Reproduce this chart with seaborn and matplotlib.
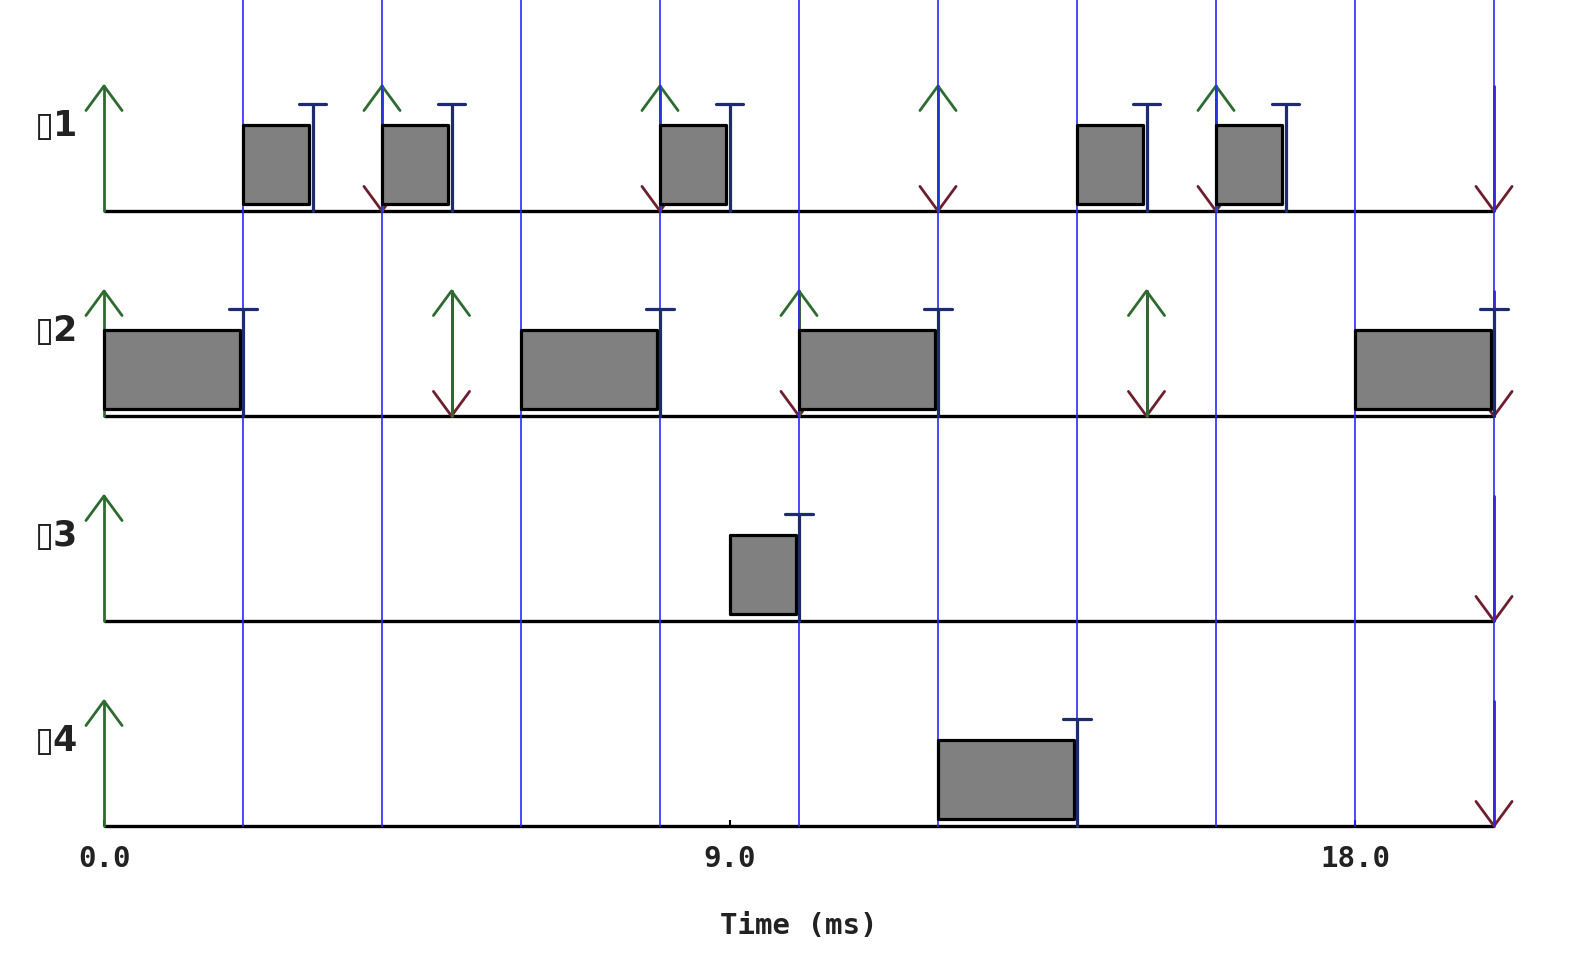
import seaborn as sns
import matplotlib
matplotlib.use('Agg')
import matplotlib.pyplot as plt

# Schedule data (time in ms)
task_labels = ["\u25af1", "\u25af2", "\u25af3", "\u25af4"]
releases = [[0, 4, 8, 12, 16], [0, 5, 10, 15], [0], [0]]
deadlines = [[4, 8, 12, 16, 20], [5, 10, 15, 20], [20], [20]]
exec_start = [[2, 4, 8, 14, 16], [0, 6, 10, 18], [9], [12]]
exec_end = [[3, 5, 9, 15, 17], [2, 8, 12, 20], [10], [14]]
grid_times = [2, 4, 6, 8, 10, 12, 14, 16, 18, 20]
tick_values = [0, 9, 18]
tick_labels = ["0.0", "9.0", "18.0"]

sns.set_theme(style="white")
plt.rcParams['font.family'] = ['DejaVu Sans Mono', 'DejaVu Sans']

GREEN = "#2e6b30"
RED = "#6e1f2e"
NAVY = "#1d2c6e"
BLUE = "#2a2aff"

fig = plt.figure(figsize=(15.96, 9.54), dpi=100)
ax = fig.add_axes([104 / 1596, 127 / 954, 1390 / 1596, 827 / 954])
ax.set_xlim(0, 20)
ax.set_ylim(0, 827 / 205)

arrow_top = 0.61
head_w = 0.26
head_h = 0.12

for i, label in enumerate(task_labels):
    base = 3 - i
    # baseline
    ax.plot([0, 20], [base, base], color="black", lw=2.4, solid_capstyle="butt",
            zorder=2, clip_on=False)
    ax.text(-0.68, base + 0.42, label, ha="center", va="center",
            fontsize=25, fontweight="bold", color="#222222", family="DejaVu Sans")

    # deadlines (red down arrows)
    for d in deadlines[i]:
        ax.plot([d, d], [base, base + arrow_top], color=RED, lw=2, zorder=3, clip_on=False)
        ax.plot([d - head_w, d, d + head_w], [base + head_h, base, base + head_h],
                color=RED, lw=2, zorder=3, clip_on=False)

    # releases (green up arrows)
    for r in releases[i]:
        ax.plot([r, r], [base, base + arrow_top], color=GREEN, lw=2, zorder=4, clip_on=False)
        ax.plot([r - head_w, r, r + head_w],
                [base + arrow_top - head_h, base + arrow_top, base + arrow_top - head_h],
                color=GREEN, lw=2, zorder=4, clip_on=False)

    # executions
    bars = [(s, e - s - 0.05) for s, e in zip(exec_start[i], exec_end[i])]
    ax.broken_barh(bars, (base + 0.035, 0.385), facecolors="#808080",
                   edgecolors="black", linewidth=2.3, zorder=5, clip_on=False)

    # completion markers
    for e in exec_end[i]:
        ax.plot([e, e], [base, base + 0.52], color=NAVY, lw=2.3, zorder=6, clip_on=False)
        ax.plot([e - 0.2, e + 0.2], [base + 0.52, base + 0.52], color=NAVY, lw=2.3,
                zorder=6, clip_on=False)

for g in grid_times:
    ax.axvline(g, color=BLUE, lw=1.2, zorder=4.5, clip_on=False)

sns.despine(ax=ax, left=True, bottom=True)
ax.set_yticks([])
ax.set_xticks(tick_values)
ax.set_xticklabels(tick_labels, fontsize=21, fontweight="bold", color="#222222")
ax.tick_params(axis="x", direction="in", length=4, width=1.5, color="black", pad=13, bottom=True)
ax.set_xlabel("Time (ms)", fontsize=21, fontweight="bold", color="#222222", labelpad=28)

fig.savefig("out.png", dpi=100)
